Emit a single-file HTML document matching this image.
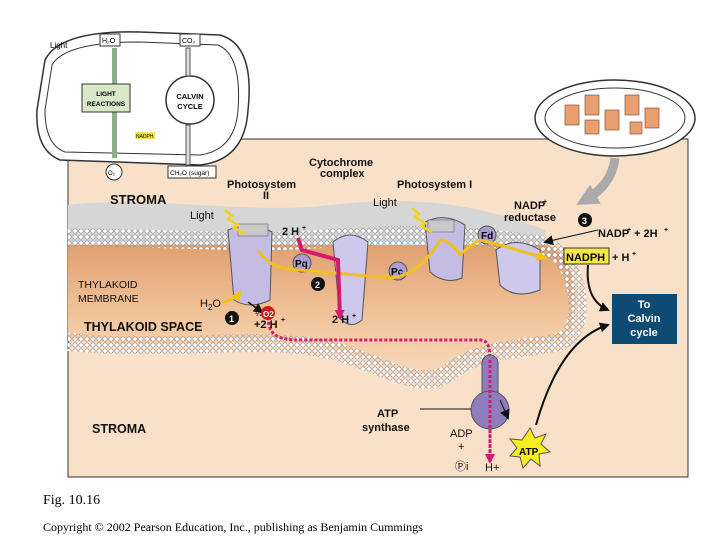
<!DOCTYPE html>
<html><head><style>
body{margin:0;background:#fff;width:720px;height:540px;overflow:hidden;font-family:"Liberation Sans",sans-serif}
</style></head><body>
<svg width="720" height="540" viewBox="0 0 720 540" xmlns="http://www.w3.org/2000/svg" font-family="Liberation Sans, sans-serif">
<defs>
<pattern id="lip" width="6" height="6" patternUnits="userSpaceOnUse"><circle cx="3" cy="3" r="2.2" fill="#fff" stroke="#888" stroke-width="0.7"/></pattern>
<linearGradient id="ts" x1="0" y1="0" x2="0" y2="1"><stop offset="0" stop-color="#e0a070"/><stop offset="0.6" stop-color="#f3c8a0"/><stop offset="1" stop-color="#f7d8bc"/></linearGradient>
<marker id="ah" markerUnits="userSpaceOnUse" markerWidth="10" markerHeight="10" refX="8" refY="5" orient="auto"><path d="M0,0 L10,5 L0,10z" fill="#111"/></marker>
<marker id="ay" markerUnits="userSpaceOnUse" markerWidth="10" markerHeight="10" refX="8" refY="5" orient="auto"><path d="M0,0 L10,5 L0,10z" fill="#f4c400"/></marker>
<marker id="ap" markerUnits="userSpaceOnUse" markerWidth="10" markerHeight="10" refX="8" refY="5" orient="auto"><path d="M0,0 L10,5 L0,10z" fill="#d61a6e"/></marker>
<marker id="ag" markerUnits="userSpaceOnUse" markerWidth="22" markerHeight="22" refX="12" refY="11" orient="auto"><path d="M0,0 L22,11 L0,22z" fill="#aaa"/></marker>
</defs>
<rect x="68" y="139" width="620" height="338" fill="#f9e0c9" stroke="#333" stroke-width="1"/>
<path d="M68,205 C150,195 250,215 330,205 C420,195 480,205 545,230 L545,245 L68,245z" fill="#d6d6d6"/>
<path d="M68,245 L545,245 C580,250 585,330 560,340 C520,350 480,345 450,370 C420,390 380,360 330,348 C260,333 180,352 68,340z" fill="url(#ts)"/>
<path d="M68,238 C150,236 250,246 330,238 C420,232 490,236 545,246" fill="none" stroke="url(#lip)" stroke-width="18"/>
<path d="M545,246 C580,256 590,332 560,342 C520,350 480,348 450,372 C420,394 380,362 330,350 C260,334 180,352 68,342" fill="none" stroke="url(#lip)" stroke-width="18"/>
<!-- Photosystem II -->
<path d="M228,230 Q250,220 272,232 L270,300 Q250,310 234,300z" fill="#c4bce2" stroke="#555"/>
<rect x="238" y="224" width="30" height="12" fill="#c8c8c8" stroke="#666" stroke-width="0.6"/>
<path d="M333,242 Q350,228 368,242 L362,320 Q350,330 340,318z" fill="#cdc8ec" stroke="#555"/>
<path d="M425,222 Q445,212 465,225 L462,278 Q445,285 430,272z" fill="#c4bce2" stroke="#555"/>
<rect x="428" y="220" width="26" height="12" fill="#c8c8c8" stroke="#666" stroke-width="0.6"/>
<path d="M496,250 Q515,235 540,250 L540,290 Q515,300 500,285z" fill="#cdc8ec" stroke="#555"/>
<circle cx="487" cy="235" r="9" fill="#a89cd0" stroke="#555"/>
<text x="481" y="239" font-size="10" font-weight="bold">Fd</text>
<circle cx="302" cy="263" r="9" fill="#a89cd0" stroke="#555"/>
<text x="295" y="267" font-size="10" font-weight="bold">Pq</text>
<circle cx="398" cy="271" r="9" fill="#a89cd0" stroke="#555"/>
<text x="391" y="275" font-size="10" font-weight="bold">Pc</text>
<path d="M258,250 Q270,270 300,270 L390,278 Q420,275 440,240 Q450,240 460,255 Q470,245 480,240 L500,245 L545,258" fill="none" stroke="#f0c020" stroke-width="3" stroke-linejoin="round" marker-end="url(#ay)"/>
<path d="M298,238 L302,250 L338,260 L340,318" fill="none" stroke="#d61a6e" stroke-width="4" marker-end="url(#ap)"/>
<path d="M268,312 C268,330 270,340 300,340 L480,340 C490,340 490,350 490,370 L490,462" fill="none" stroke="#d61a6e" stroke-width="3" stroke-dasharray="3,2" marker-end="url(#ap)"/>
<path d="M248,302 L262,312" stroke="#111" stroke-width="1.5" marker-end="url(#ah)"/>
<path d="M222,302 Q235,300 240,292" fill="none" stroke="#f0c020" stroke-width="3" marker-end="url(#ay)"/>
<rect x="482" y="355" width="16" height="50" rx="8" fill="#8e7cbc" stroke="#555"/>
<circle cx="490" cy="410" r="19" fill="#8e7cbc" stroke="#555"/>
<line x1="490" y1="360" x2="490" y2="455" stroke="#d61a6e" stroke-width="3" stroke-dasharray="3,2"/>
<line x1="420" y1="409" x2="471" y2="409" stroke="#111"/>
<g font-weight="bold" font-size="11" fill="#111">
<text x="110" y="204" font-size="13">STROMA</text>
<text x="227" y="188">Photosystem</text><text x="263" y="199">II</text>
<text x="309" y="166">Cytochrome</text><text x="320" y="177">complex</text>
<text x="397" y="188">Photosystem I</text>
<text x="514" y="209">NADP</text><text x="543" y="204" font-size="7">+</text>
<text x="504" y="221">reductase</text>
<text x="282" y="235">2 H</text><text x="302" y="230" font-size="7">+</text>
<text x="332" y="323">2 H</text><text x="352" y="318" font-size="7">+</text>
<text x="254" y="328">+2 H</text><text x="281" y="322" font-size="7">+</text>
<text x="377" y="417">ATP</text><text x="362" y="431">synthase</text>
<text x="598" y="237">NADP</text><text x="627" y="232" font-size="7">+</text><text x="634" y="237">+ 2H</text><text x="664" y="232" font-size="7">+</text>
<text x="612" y="261">+ H</text><text x="632" y="256" font-size="7">+</text>
<text x="84" y="331" font-size="12.5">THYLAKOID SPACE</text>
<text x="92" y="433" font-size="12.5">STROMA</text>
</g>
<g font-size="11" fill="#111">
<text x="78" y="288" font-size="10.5">THYLAKOID</text>
<text x="78" y="302" font-size="10.5">MEMBRANE</text>
<text x="190" y="219">Light</text>
<text x="373" y="206">Light</text>
<text x="200" y="307">H<tspan font-size="8" dy="3">2</tspan><tspan dy="-3">O</tspan></text>
<text x="255" y="316" font-size="9">½</text>
<text x="450" y="437">ADP</text><text x="458" y="450">+</text>
<text x="455" y="470">Ⓟi</text><text x="485" y="471">H+</text>
</g>
<circle cx="268" cy="313" r="7" fill="#d01818"/><text x="263" y="317" font-size="8" fill="#fff" font-weight="bold">O2</text>
<circle cx="232" cy="318" r="7" fill="#111"/><text x="229" y="322" font-size="9" fill="#fff" font-weight="bold">1</text>
<circle cx="318" cy="284" r="7" fill="#111"/><text x="315" y="288" font-size="9" fill="#fff" font-weight="bold">2</text>
<circle cx="585" cy="220" r="7" fill="#111"/><text x="582" y="224" font-size="9" fill="#fff" font-weight="bold">3</text>
<rect x="564" y="248" width="45" height="16" fill="#f7e64a" stroke="#333"/>
<text x="566" y="261" font-size="11" font-weight="bold">NADPH</text>
<rect x="612" y="294" width="65" height="50" fill="#0e4a72"/>
<text x="644" y="308" font-size="11" fill="#fff" font-weight="bold" text-anchor="middle">To</text>
<text x="644" y="322" font-size="11" fill="#fff" font-weight="bold" text-anchor="middle">Calvin</text>
<text x="644" y="336" font-size="11" fill="#fff" font-weight="bold" text-anchor="middle">cycle</text>
<polygon points="530,428 535,438 546,434 541,444 550,452 539,454 540,466 531,459 523,468 520,457 510,456 517,448 510,439 522,440" fill="#f7ee20" stroke="#555"/>
<text x="519" y="455" font-size="10" font-weight="bold">ATP</text>
<path d="M588,265 Q585,300 608,310" fill="none" stroke="#111" stroke-width="2" marker-end="url(#ah)"/>
<path d="M536,425 Q560,340 608,325" fill="none" stroke="#111" stroke-width="2" marker-end="url(#ah)"/>
<path d="M598,230 L545,242" fill="none" stroke="#111" stroke-width="1" marker-end="url(#ah)"/>
<path d="M500,400 L508,418" stroke="#111" stroke-width="1" marker-end="url(#ah)"/>
<path d="M225,210 L232,216 L228,219 L238,225 L234,228 L245,234" fill="none" stroke="#f4d020" stroke-width="2.5"/>
<path d="M412,208 L419,214 L415,217 L425,223 L421,226 L432,232" fill="none" stroke="#f4d020" stroke-width="2.5"/>
<!-- inset chloroplast -->
<path d="M45,60 Q60,30 140,32 L220,35 Q255,45 248,110 Q245,160 200,165 L60,160 Q35,150 37,110z" fill="#fff" stroke="#333" stroke-width="1.5"/>
<path d="M52,65 Q65,42 140,42 L218,45 Q242,55 238,110 Q235,150 200,155 L65,152 Q45,145 45,110z" fill="none" stroke="#333"/>
<rect x="112" y="48" width="5" height="110" fill="#8ab08a"/>
<rect x="82" y="84" width="48" height="28" fill="#d8e8c8" stroke="#333"/>
<text x="106" y="96" font-size="6.5" font-weight="bold" text-anchor="middle">LIGHT</text><text x="106" y="106" font-size="6.5" font-weight="bold" text-anchor="middle">REACTIONS</text>
<circle cx="190" cy="100" r="24" fill="#fff" stroke="#333" stroke-width="1.5"/>
<text x="190" y="99" font-size="7.5" font-weight="bold" text-anchor="middle">CALVIN</text><text x="190" y="109" font-size="7.5" font-weight="bold" text-anchor="middle">CYCLE</text>
<rect x="100" y="34" width="20" height="12" fill="#fff" stroke="#333"/><text x="102" y="43" font-size="7">H₂O</text>
<rect x="180" y="34" width="20" height="12" fill="#fff" stroke="#333"/><text x="182" y="43" font-size="7">CO₂</text>
<text x="50" y="48" font-size="8">Light</text>
<rect x="186" y="48" width="4" height="28" fill="#ddd" stroke="#555"/>
<rect x="186" y="125" width="4" height="40" fill="#ddd" stroke="#555"/>
<circle cx="114" cy="172" r="8" fill="#fff" stroke="#333"/><text x="108" y="175" font-size="6">O₂</text>
<rect x="168" y="166" width="48" height="12" fill="#fff" stroke="#333"/><text x="170" y="175" font-size="6.5">CH₂O (sugar)</text>
<rect x="135" y="132" width="20" height="7" fill="#f7e64a"/><text x="136" y="138" font-size="5">NADPH</text>
<!-- mitochondrion inset -->
<ellipse cx="615" cy="118" rx="80" ry="38" fill="#fff" stroke="#333" stroke-width="1.5"/>
<ellipse cx="615" cy="118" rx="70" ry="30" fill="none" stroke="#333"/>
<g fill="#e8a070" stroke="#7a4020" stroke-width="0.6">
<rect x="565" y="105" width="14" height="20"/><rect x="585" y="95" width="14" height="20"/><rect x="605" y="110" width="14" height="20"/><rect x="625" y="95" width="14" height="20"/><rect x="645" y="108" width="14" height="20"/><rect x="585" y="120" width="14" height="14"/><rect x="630" y="122" width="12" height="12"/>
</g>
<path d="M615,158 Q612,185 585,200" fill="none" stroke="#aaa" stroke-width="9" marker-end="url(#ag)"/>
<text x="43" y="504" font-family="Liberation Serif, serif" font-size="14">Fig. 10.16</text>
<text x="43" y="531" font-family="Liberation Serif, serif" font-size="12">Copyright © 2002 Pearson Education, Inc., publishing as Benjamin Cummings</text>
</svg>
</body></html>
